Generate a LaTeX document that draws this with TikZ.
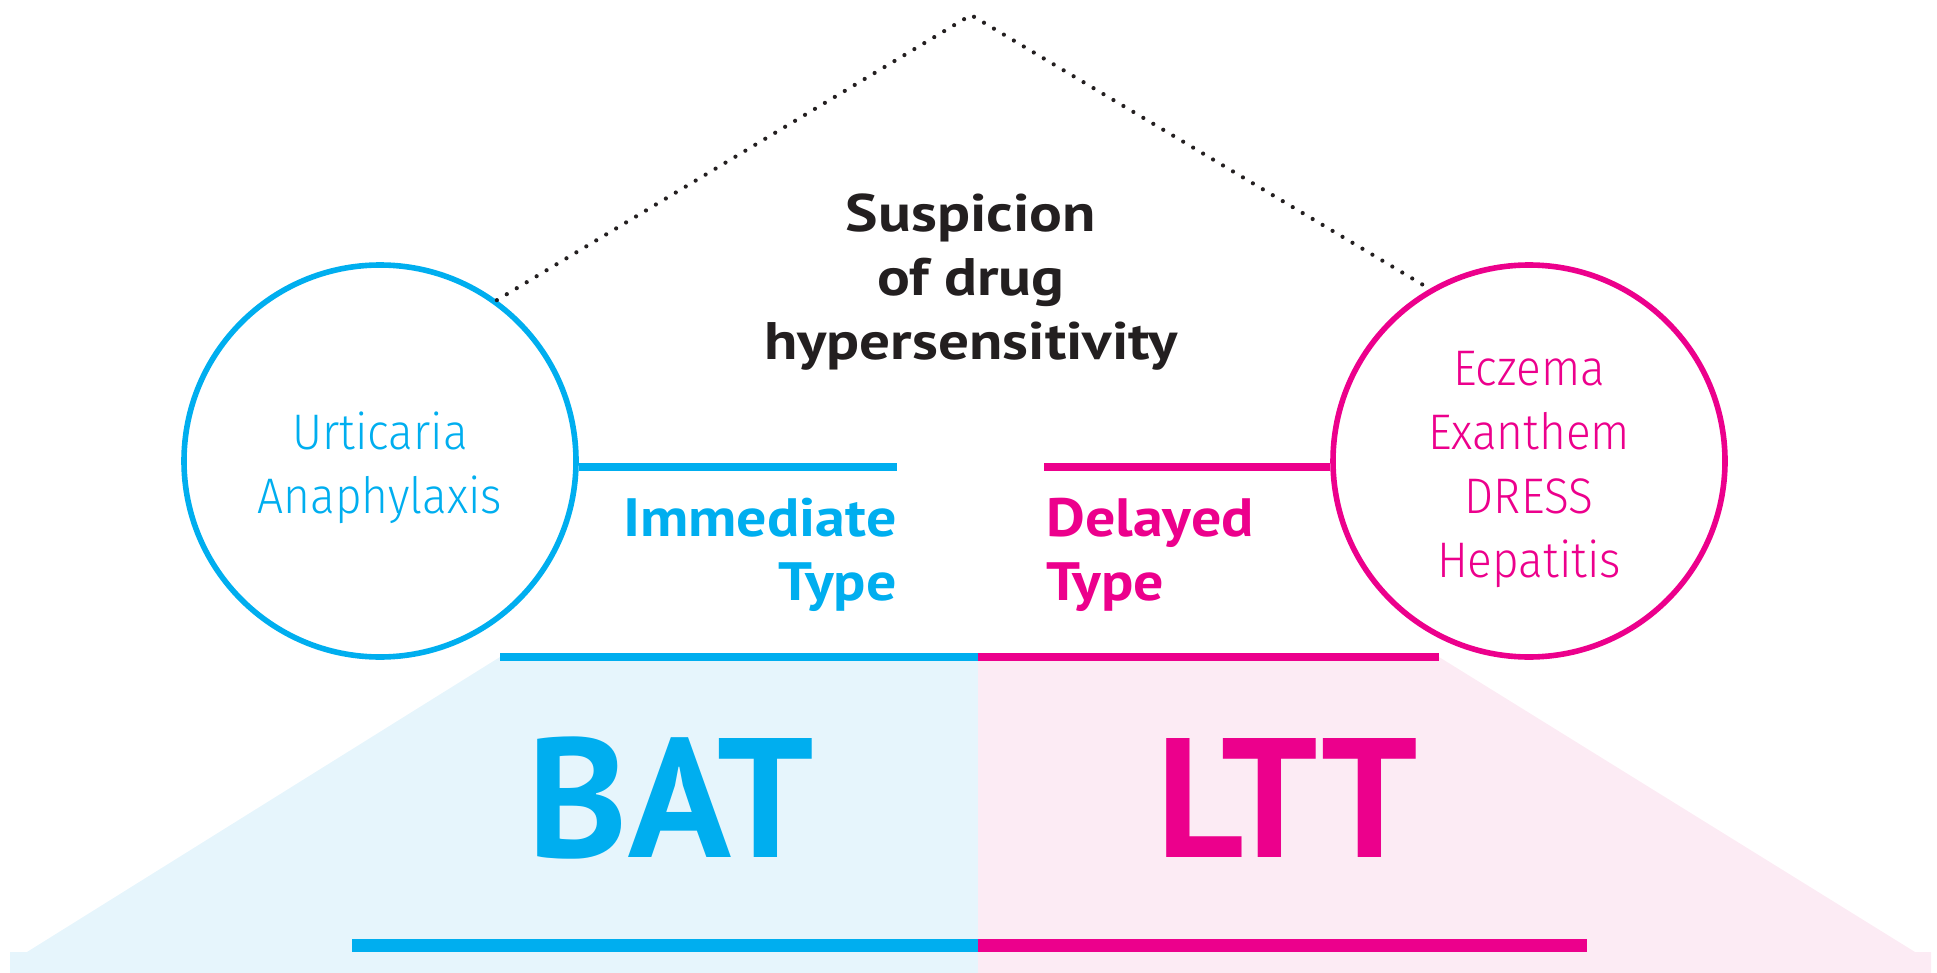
\documentclass[tikz,border=0pt]{standalone}
\usepackage{fontspec}
\setmainfont{PT Sans}
\newfontfamily\thinfont[FakeStretch=0.92]{Fira Sans Light}
\usetikzlibrary{calc}

\definecolor{batblue}{HTML}{00AEEF}
\definecolor{lttpink}{HTML}{EC008C}
\definecolor{batfill}{HTML}{E6F5FC}
\definecolor{lttfill}{HTML}{FCEBF4}
\definecolor{ink}{HTML}{231F20}

\begin{document}
\begin{tikzpicture}
  [
    x=0.5pt, y=-0.5pt,
    sympt/.style =
      {draw, circle, line width=2.8pt, minimum size=196pt, inner sep=0pt},
    symtext/.style =
      {align=center, inner sep=0pt, font=\thinfont\fontsize{25}{32}\selectfont},
    link/.style =
      {line width=3.8pt},
    hint/.style =
      {ink, line width=2.1pt, line cap=round, dash pattern=on 0pt off 5.8pt},
    kind/.style =
      {inner sep=0pt, font=\fontsize{27}{32}\selectfont\bfseries\addfontfeature{FakeStretch=1.11}},
    assay/.style =
      {inner sep=0pt, font=\bfseries\fontsize{85}{85}\selectfont}
  ]

\useasboundingbox (0,0) rectangle (1937,973);

% light backgrounds
\fill[batfill] (500,657) -- (27,952) -- (10,952) -- (10,973) -- (978,973) -- (978,657) -- cycle;
\fill[lttfill] (978,657) -- (1439,657) -- (1915,952) -- (1931,952) -- (1931,973) -- (978,973) -- cycle;

\node[sympt, batblue] (imm) at (380,461) {};
\node[sympt, lttpink] (del) at (1529,461) {};
\node[symtext, batblue] (immsym) at ($(imm)+(0,7)$) {Urticaria\\Anaphylaxis};
\node[symtext, lttpink] (delsym) at ($(del)+(0,8)$) {Eczema\\Exanthem\\DRESS\\Hepatitis};

\coordinate (top) at (971,15);
\draw[hint] (imm.54) -- (top) -- (del.120);

\node[ink, align=center, inner sep=0pt,
      font=\fontsize{26.4}{32}\selectfont\bfseries\addfontfeature{FakeStretch=1.16}]
  (susp) at (971,282) {Suspicion\\of drug\\hypersensitivity};

\coordinate (immend) at (897,467);
\coordinate (delend) at (1044,467);
\draw[link, batblue] (imm.east |- immend) -- (immend);
\draw[link, lttpink] (del.west |- delend) -- (delend);

\node[kind, batblue, anchor=east, align=right] (immt) at (897,555) {Immediate\\Type};
\node[kind, lttpink, anchor=west, align=left] (delt) at (1046,555) {Delayed\\Type};

\coordinate (barl) at (500,657);
\coordinate (barm) at (978,657);
\coordinate (barr) at (1439,657);
\draw[link, batblue] (barl) -- (barm);
\draw[link, lttpink] (barm) -- (barr);

\node[assay, batblue] (bat) at (671,798) {BAT};
\node[assay, lttpink] (ltt) at (1287,798) {LTT};

\coordinate (basel) at (352,945);
\coordinate (basem) at (978,945);
\coordinate (baser) at (1587,945);
\draw[batblue, line width=6.5pt] (basel) -- (basem);
\draw[lttpink, line width=6.5pt] (basem) -- (baser);

\end{tikzpicture}
\end{document}
